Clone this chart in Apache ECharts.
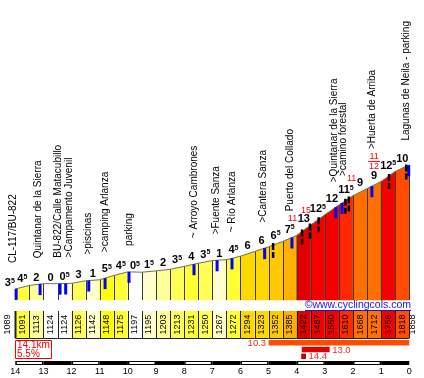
<!DOCTYPE html>
<html><head><meta charset="utf-8">
<script src="https://cdn.jsdelivr.net/npm/echarts@6.0.0/dist/echarts.min.js"></script>
<style>html,body{margin:0;padding:0;background:#fff;overflow:hidden}#c{width:424px;height:378px}</style>
</head><body><div id="c"></div>
<script>
// ---------------- data ----------------
const totalKm = 14.1;            // length of the climb
const startAltitude = 1089;      // altitude at km 14.1
const firstGrade = 3.5;          // grade of the short 14.1 -> 14 km stretch
const columnKm = [14,13.5,13,12.5,12,11.5,11,10.5,10,9.5,9,8.5,8,7.5,7,6.5,6,5.5,5,4.5,4,3.5,3,2.5,2,1.5,1,0.5,0];
const altitudes = [1091,1113,1124,1124,1126,1142,1148,1175,1197,1195,1203,1213,1231,1250,1267,1272,1294,1323,1352,1385,1422,1487,1550,1610,1668,1712,1756,1818,1858];
const grades = [4.5,2,0,0.5,3,1,5.5,4.5,-0.5,1.5,2,3.5,4,3.5,1,4.5,6,6,6.5,7.5,13,12.5,12,11.5,9,9,12.5,10];
const placeKm = [14.08,13.18,12.47,12.09,11.42,10.81,9.96,7.65,6.87,6.30,5.19,4.24,2.66,2.34,1.33,0.12];
const placeNames = ['CL-117/BU-822','Quintanar de la Sierra','BU-822/Calle Matacubillo','>Campamento Juvenil','>piscinas','>camping Arlanza','parking','~ Arroyo Cambrones','>Fuente Sanza','~ Río Arlanza','>Cantera Sanza','Puerto del Collado','>Quintanar de la Sierra','>camino forestal','>Huerta de Arriba','Lagunas de Neila - parking'];
const blueMarkKm = [13.97,13.12,12.41,12.21,11.39,10.81,9.96,7.65,6.83,6.30,5.14,4.17,2.61,2.39,1.33,0.02];
const blackMarkKm = [4.84,3.81,3.53,3.22,2.27,2.15,0.72,0.11];
const maxGradeKm = [4.15,3.67,2.05,1.25];
const maxGradeTop = ['11','15','11','11'];
const maxGradeBottom = ['','','','12'];
const summaryFromKm = [5,3.82,3.84];
const summaryToKm = [0,2.83,3.67];
const summaryGrade = [10.3,13.0,14.4];

// ---------------- helpers ----------------
const F = '"Liberation Sans", Arial, sans-serif';
const L = 15.3, R = 14.7;
const Y_MIN = 1023, Y_MAX = 2817;

function gradeColor(g){
  g = Math.abs(g);
  if (g < 1) return '#FFFFFF';
  if (g < 2) return '#FFFFCC';
  if (g < 3) return '#FFFF99';
  if (g < 4) return '#FFFF55';
  if (g < 5) return '#FFFF33';
  if (g < 6) return '#FFFF00';
  if (g < 6.5) return '#FFD800';
  if (g < 7) return '#FFC800';
  if (g < 8) return '#FFB000';
  if (g < 9) return '#FF9000';
  if (g < 10) return '#FF7000';
  if (g < 11) return '#FF4C00';
  if (g < 12) return '#FF2800';
  if (g < 13) return '#F40000';
  if (g < 14) return '#E00000';
  return '#C80000';
}
function altAt(km){
  if (km >= columnKm[0]) return altitudes[0];
  for (let i = 0; i < columnKm.length - 1; i++){
    if (km <= columnKm[i] && km >= columnKm[i+1]){
      const f = (columnKm[i] - km) / (columnKm[i] - columnKm[i+1]);
      return altitudes[i] + f * (altitudes[i+1] - altitudes[i]);
    }
  }
  return altitudes[altitudes.length - 1];
}
function gradeText(g){
  const a = Math.abs(g), i = Math.floor(a), h = Math.round((a - i) * 10);
  return h ? i + '{s|' + h + '}' : '' + i;
}
const gradeRich = { s: { fontSize: 7, fontWeight: 'bold', fontFamily: F, fill: '#000', verticalAlign: 'top', lineHeight: 8 } };

function annBottomPx(api, j){ return api.coord([maxGradeKm[j], altAt(maxGradeKm[j])])[1] - 14; }
function annTopPx(api, j){ return annBottomPx(api, j) - (maxGradeBottom[j] ? 19 : 9); }

const xHidden = { type: 'value', min: 0, max: 14, inverse: true, show: false };

const option = {
  animation: false,
  backgroundColor: '#fff',
  grid: [
    { left: L, right: R, top: 10, height: 290 },
    { left: L, right: R, top: 311, height: 27 },
    { left: L, right: R, top: 340, height: 20.4 },
    { left: L, right: R, top: 361, height: 4 }
  ],
  xAxis: [
    Object.assign({ gridIndex: 0 }, xHidden),
    Object.assign({ gridIndex: 1 }, xHidden),
    Object.assign({ gridIndex: 2 }, xHidden),
    { type: 'value', gridIndex: 3, min: 0, max: 14, interval: 1, inverse: true,
      axisLine: { show: false }, axisTick: { show: false }, splitLine: { show: false },
      axisLabel: { fontSize: 9, fontFamily: F, color: '#000', margin: 2 } }
  ],
  yAxis: [
    { type: 'value', gridIndex: 0, min: Y_MIN, max: Y_MAX, show: false },
    { type: 'value', gridIndex: 1, min: 0, max: 1, show: false },
    { type: 'value', gridIndex: 2, min: 0, max: 3, inverse: true, show: false },
    { type: 'value', gridIndex: 3, min: 0, max: 1, show: false }
  ],
  series: [
    // profile columns
    { type: 'custom', xAxisIndex: 0, yAxisIndex: 0, z: 1, silent: true,
      data: grades.map((g, i) => [columnKm[i], columnKm[i+1], altitudes[i], altitudes[i+1], g]),
      renderItem(params, api){
        const k0 = api.value(0), k1 = api.value(1), a0 = api.value(2), a1 = api.value(3), g = api.value(4);
        const pts = [api.coord([k0, a0]), api.coord([k1, a1]), api.coord([k1, Y_MIN]), api.coord([k0, Y_MIN])];
        return { type: 'polygon', shape: { points: pts }, style: { fill: gradeColor(g), stroke: gradeColor(g), lineWidth: 0.5 } };
      } },
    // column separators
    { type: 'custom', xAxisIndex: 0, yAxisIndex: 0, z: 2, silent: true,
      data: altitudes.map((a, i) => [columnKm[i], a]),
      renderItem(params, api){
        const p = api.coord([api.value(0), api.value(1)]);
        const b = api.coord([api.value(0), Y_MIN]);
        const x = Math.round(p[0]) + 0.5;
        return { type: 'line', shape: { x1: x, y1: p[1], x2: x, y2: b[1] }, style: { stroke: '#3a3a3a', lineWidth: 1 } };
      } },
    // top outline
    { type: 'line', xAxisIndex: 0, yAxisIndex: 0, z: 3, silent: true, symbol: 'none',
      data: altitudes.map((a, i) => [columnKm[i], a]),
      lineStyle: { color: '#707070', width: 1 } },
    // blue markers
    { type: 'custom', xAxisIndex: 0, yAxisIndex: 0, z: 4, silent: true,
      data: blueMarkKm.map(k => [k, altAt(k)]),
      renderItem(params, api){
        const p = api.coord([api.value(0), api.value(1)]);
        return { type: 'rect', shape: { x: p[0] - 1.5, y: p[1], width: 3, height: 11 }, style: { fill: '#0000FF' } };
      } },
    // black dashed markers
    { type: 'custom', xAxisIndex: 0, yAxisIndex: 0, z: 4, silent: true,
      data: blackMarkKm.map(k => [k, altAt(k)]),
      renderItem(params, api){
        const p = api.coord([api.value(0), api.value(1)]);
        return { type: 'line', shape: { x1: p[0], y1: p[1] - 2, x2: p[0], y2: p[1] + 13 },
          style: { stroke: '#000', lineWidth: 2.5, lineDash: [7, 2] } };
      } },
    // grade labels
    { type: 'custom', xAxisIndex: 0, yAxisIndex: 0, z: 5, silent: true,
      data: [[columnKm[0], startAltitude, firstGrade, 1]].concat(
        grades.map((g, i) => [(columnKm[i] + columnKm[i+1]) / 2, Math.max(altitudes[i], altitudes[i+1]), g, 0])),
      renderItem(params, api){
        const first = api.value(3) === 1;
        const p = api.coord([api.value(0), Math.max(api.value(1), altitudes[0])]);
        return { type: 'text', x: first ? p[0] - 0.5 : p[0], y: p[1] - 0.5,
          style: { text: gradeText(api.value(2)), fontSize: 11, fontWeight: 'bold', fontFamily: F, fill: '#000',
            align: first ? 'right' : 'center', verticalAlign: 'bottom', rich: gradeRich } };
      } },
    // red max-grade annotations
    { type: 'custom', xAxisIndex: 0, yAxisIndex: 0, z: 5, silent: true,
      data: maxGradeKm.map((k, j) => [k, altAt(k), j]),
      renderItem(params, api){
        const j = api.value(2);
        const x = api.coord([api.value(0), api.value(1)])[0];
        const b = annBottomPx(api, j);
        const st = { fontSize: 9, fontFamily: F, fill: '#FF0000', align: 'center', verticalAlign: 'bottom' };
        if (!maxGradeBottom[j]) {
          return { type: 'text', x: x, y: b, style: Object.assign({ text: maxGradeTop[j] }, st) };
        }
        return { type: 'group', children: [
          { type: 'text', x: x, y: b, style: Object.assign({ text: maxGradeBottom[j] }, st) },
          { type: 'line', shape: { x1: x - 6, y1: b - 9.5, x2: x + 6, y2: b - 9.5 }, style: { stroke: '#FF0000', lineWidth: 1 } },
          { type: 'text', x: x, y: b - 10, style: Object.assign({ text: maxGradeTop[j] }, st) }
        ] };
      } },
    // place names
    { type: 'custom', xAxisIndex: 0, yAxisIndex: 0, z: 5, silent: true,
      data: placeKm.map((k, i) => [k, altAt(k), i]),
      renderItem(params, api){
        const km = api.value(0), i = api.value(2);
        const p = api.coord([km, api.value(1)]);
        let bottom = p[1] - 26;
        maxGradeKm.forEach((mk, j) => { if (Math.abs(mk - km) < 0.12) bottom = Math.min(bottom, annTopPx(api, j) - 3); });
        return { type: 'text', x: p[0], y: bottom, rotation: Math.PI / 2,
          style: { text: placeNames[i], fontSize: 10, fontFamily: F, fill: '#000', align: 'left', verticalAlign: 'middle' } };
      } },
    // altitude label row
    { type: 'custom', xAxisIndex: 1, yAxisIndex: 1, z: 5, silent: true,
      data: [[columnKm[0], columnKm[0], startAltitude, 0, 1]]
        .concat(grades.map((g, i) => [columnKm[i], columnKm[i+1], altitudes[i], g, 0]))
        .concat([[0, 0, altitudes[altitudes.length - 1], 0, 2]]),
      renderItem(params, api){
        const k0 = api.value(0), k1 = api.value(1), alt = api.value(2), g = api.value(3), kind = api.value(4);
        const p0 = api.coord([k0, 1]), p1 = api.coord([k1, 0]);
        const cy = (p0[1] + p1[1]) / 2;
        const txt = (cx) => ({ type: 'text', x: cx, y: cy, rotation: Math.PI / 2,
          style: { text: String(alt), fontSize: 9, fontFamily: F, fill: '#000', align: 'center', verticalAlign: 'middle' } });
        if (kind === 1) return txt(p0[0] - 8);
        if (kind === 2) return txt(p0[0] + 3.5);
        const xl = Math.round(p0[0]) + 0.5, xr = Math.round(p1[0]) + 0.5;
        const ch = [
          { type: 'rect', shape: { x: p0[0], y: p0[1], width: p1[0] - p0[0], height: p1[1] - p0[1] }, style: { fill: gradeColor(g) } },
          { type: 'line', shape: { x1: xl, y1: p0[1], x2: xl, y2: p1[1] }, style: { stroke: '#222', lineWidth: params.dataIndex === 1 ? 2 : 1 } },
          { type: 'line', shape: { x1: p0[0], y1: p1[1] + 0.5, x2: p1[0], y2: p1[1] + 0.5 }, style: { stroke: '#222', lineWidth: 1 } },
          txt((p0[0] + p1[0]) / 2)
        ];
        if (k1 === 0) ch.push({ type: 'line', shape: { x1: xr, y1: p0[1], x2: xr, y2: p1[1] }, style: { stroke: '#222', lineWidth: 1 } });
        return { type: 'group', children: ch };
      } },
    // summary bars
    { type: 'custom', xAxisIndex: 2, yAxisIndex: 2, z: 5, silent: true,
      data: summaryGrade.map((g, i) => [summaryFromKm[i], summaryToKm[i], g, i]),
      renderItem(params, api){
        const k0 = api.value(0), k1 = api.value(1), g = api.value(2), row = api.value(3);
        const p0 = api.coord([k0, row]), p1 = api.coord([k1, row + 0.8]);
        const cy = (p0[1] + p1[1]) / 2;
        const left = k1 <= 0.01;
        return { type: 'group', children: [
          { type: 'rect', shape: { x: p0[0], y: p0[1], width: p1[0] - p0[0], height: p1[1] - p0[1] }, style: { fill: gradeColor(g) } },
          { type: 'text', x: left ? p0[0] - 2.5 : p1[0] + 2.5, y: cy + 0.5,
            style: { text: g.toFixed(1), fontSize: 9.5, fontFamily: F, fill: '#F02828', align: left ? 'right' : 'left', verticalAlign: 'middle' } }
        ] };
      } },
    // km scale bar
    { type: 'custom', xAxisIndex: 3, yAxisIndex: 3, z: 5, silent: true,
      data: columnKm.filter(k => Number.isInteger(k) && k > 0).map((k, i) => [k, k - 1, i]),
      renderItem(params, api){
        const p0 = api.coord([api.value(0), 1]), p1 = api.coord([api.value(1), 0]);
        const ch = [{ type: 'rect', shape: { x: p0[0], y: p0[1], width: p1[0] - p0[0], height: p1[1] - p0[1] }, style: { fill: '#000' } }];
        if (api.value(2) % 2 === 0) ch.push({ type: 'rect', shape: { x: p0[0] + 1.5, y: p0[1] + 1, width: p1[0] - p0[0] - 3, height: p1[1] - p0[1] - 2 }, style: { fill: '#fff' } });
        return { type: 'group', children: ch };
      } }
  ],
  graphic: [
    { type: 'text', x: 411, y: 305.5, z: 10,
      style: { text: '©www.cyclingcols.com', fontSize: 10.5, fontFamily: F, fill: '#1414E6', align: 'right', verticalAlign: 'middle' } },
    { type: 'line', z: 10, shape: { x1: 305, y1: 310.5, x2: 411, y2: 310.5 }, style: { stroke: '#1414E6', lineWidth: 1 } },
    { type: 'rect', z: 10, shape: { x: 15.5, y: 340.5, width: 36, height: 18 }, style: { fill: '#fff', stroke: '#FF0000', lineWidth: 1 } },
    { type: 'text', z: 11, x: 17, y: 340.5,
      style: { text: totalKm.toFixed(1) + 'km\n' + ((altitudes[altitudes.length - 1] - startAltitude) / (totalKm * 1000) * 100).toFixed(1) + '%',
        fontSize: 10, lineHeight: 9, fontFamily: F, fill: '#FF0000', align: 'left', verticalAlign: 'top' } }
  ]
};

const chart = echarts.init(document.getElementById('c'), null, { renderer: 'canvas' });
chart.setOption(option);
</script>
</body></html>
